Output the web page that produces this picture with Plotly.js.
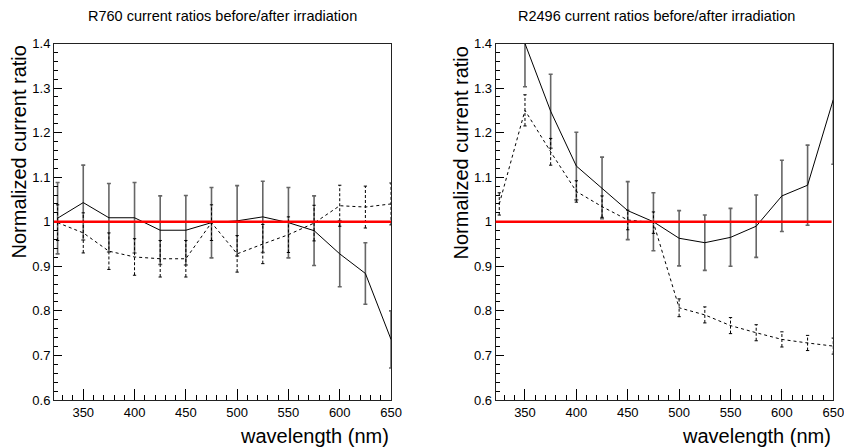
<!DOCTYPE html>
<html>
<head>
<meta charset="utf-8">
<script src="https://cdn.plot.ly/plotly-3.0.1.min.js"></script>
<style>html,body{margin:0;padding:0;background:#fff;}#chart{width:844px;height:448px;}</style>
</head>
<body>
<div id="chart"></div>
<script>
// ---- data ----
const wavelength = [325, 350, 375, 400, 425, 450, 475, 500, 525, 550, 575, 600, 625, 650];

const r760Solid      = [1.008, 1.043, 1.009, 1.009, 0.981, 0.981, 0.998, 1.002, 1.011, 0.998, 0.980, 0.928, 0.884, 0.736];
const r760SolidErr   = [0.080, 0.084, 0.077, 0.079, 0.077, 0.078, 0.079, 0.079, 0.080, 0.079, 0.078, 0.074, 0.069, 0.064];
const r760Dashed     = [0.998, 0.975, 0.934, 0.921, 0.917, 0.917, 0.998, 0.928, 0.950, 0.971, 0.997, 1.036, 1.033, 1.040];
const r760DashedErr  = [0.040, 0.045, 0.041, 0.041, 0.041, 0.041, 0.040, 0.041, 0.044, 0.040, 0.040, 0.046, 0.047, 0.047];

const r2496Solid     = [null, 1.400, 1.248, 1.125, 1.076, 1.025, 1.000, 0.963, 0.953, 0.965, 0.990, 1.058, 1.082, 1.274];
const r2496SolidErr  = [null, 0.097, 0.083, 0.076, 0.069, 0.065, 0.065, 0.062, 0.062, 0.065, 0.070, 0.080, 0.090, 0.145];
const r2496Dashed    = [1.040, 1.250, 1.157, 1.068, 1.034, 1.004, 0.998, 0.807, 0.791, 0.767, 0.751, 0.736, 0.728, 0.721];
const r2496DashedErr = [0.025, 0.035, 0.030, 0.024, 0.024, 0.022, 0.024, 0.020, 0.018, 0.018, 0.018, 0.017, 0.017, 0.018];

const xTickVals = [350, 400, 450, 500, 550, 600, 650];
const yTickVals = [0.6, 0.7, 0.8, 0.9, 1.0, 1.1, 1.2, 1.3, 1.4];
const yTickText = ['0.6', '0.7', '0.8', '0.9', '1', '1.1', '1.2', '1.3', '1.4'];
const referenceRatio = 1;

const titles = ['R760 current ratios before/after irradiation', 'R2496 current ratios before/after irradiation'];
const xTitle = 'wavelength (nm)';
const yTitle = 'Normalized current ratio';

// ---- helpers ----
const FONT = 'Liberation Sans, Arial, Helvetica, sans-serif';

function solidTraces(xa, ya, vals, errs) {
  return [{
    type: 'scatter', mode: 'lines', x: wavelength, y: vals, xaxis: xa, yaxis: ya,
    line: {color: '#000', width: 1}, connectgaps: false, hoverinfo: 'skip',
    error_y: {type: 'data', array: errs, visible: true, color: '#666', thickness: 1.6, width: 2}
  }];
}

function dashedTraces(xa, ya, vals, errs) {
  const sx = [], sy = [], cx = [], cy = [];
  const capHalf = 1.6;
  wavelength.forEach((w, i) => {
    const v = vals[i], e = errs[i];
    if (v == null) return;
    sx.push(w, w, null); sy.push(v - e, v + e, null);
    cx.push(w - capHalf, w + capHalf, null); cy.push(v - e, v - e, null);
    cx.push(w - capHalf, w + capHalf, null); cy.push(v + e, v + e, null);
  });
  return [
    {type: 'scatter', mode: 'lines', x: wavelength, y: vals, xaxis: xa, yaxis: ya,
     line: {color: '#000', width: 1, dash: '3px,3px'}, hoverinfo: 'skip'},
    {type: 'scatter', mode: 'lines', x: sx, y: sy, xaxis: xa, yaxis: ya,
     line: {color: '#000', width: 1, dash: '3px,2px'}, hoverinfo: 'skip'},
    {type: 'scatter', mode: 'lines', x: cx, y: cy, xaxis: xa, yaxis: ya,
     line: {color: '#000', width: 1}, hoverinfo: 'skip'}
  ];
}

const data = [].concat(
  solidTraces('x', 'y', r760Solid, r760SolidErr),
  dashedTraces('x', 'y', r760Dashed, r760DashedErr),
  solidTraces('x2', 'y2', r2496Solid, r2496SolidErr),
  dashedTraces('x2', 'y2', r2496Dashed, r2496DashedErr)
);

function xAxis(domain, anchor) {
  return {
    domain: domain, anchor: anchor, range: [321.5, 650],
    tickvals: xTickVals, ticks: 'inside', ticklen: 11, tickcolor: '#000', tickwidth: 1,
    minor: {dtick: 10, ticks: 'inside', ticklen: 5, tickcolor: '#000', tickwidth: 1, showgrid: false},
    showline: true, mirror: true, linecolor: '#222', linewidth: 1,
    showgrid: false, zeroline: false, tickfont: {family: FONT, size: 13, color: '#000'},
    ticklabeloverflow: 'allow', fixedrange: true
  };
}
function yAxis(domain, anchor) {
  return {
    domain: domain, anchor: anchor, range: [0.6, 1.4],
    tickvals: yTickVals, ticktext: yTickText, ticks: 'inside', ticklen: 8, tickcolor: '#000', tickwidth: 1,
    minor: {dtick: 0.02, ticks: 'inside', ticklen: 4, tickcolor: '#000', tickwidth: 1, showgrid: false},
    showline: true, mirror: true, linecolor: '#222', linewidth: 1,
    showgrid: false, zeroline: false, tickfont: {family: FONT, size: 13, color: '#000'},
    ticklabeloverflow: 'allow', fixedrange: true
  };
}

const yDom = [0.1071, 0.9029];
const layout = {
  width: 844, height: 448,
  margin: {l: 0, r: 0, t: 0, b: 0},
  paper_bgcolor: '#fff', plot_bgcolor: '#fff',
  showlegend: false,
  xaxis: xAxis([0.0640, 0.4633], 'y'),
  yaxis: yAxis(yDom, 'x'),
  xaxis2: xAxis([0.5873, 0.9873], 'y2'),
  yaxis2: yAxis(yDom, 'x2'),
  shapes: [
    {type: 'line', xref: 'x domain', yref: 'y', x0: 0, x1: 1, y0: referenceRatio, y1: referenceRatio,
     line: {color: '#ff0000', width: 2.5}, layer: 'above'},
    {type: 'line', xref: 'x2 domain', yref: 'y2', x0: 0, x1: 0.995, y0: referenceRatio, y1: referenceRatio,
     line: {color: '#ff0000', width: 2.5}, layer: 'above'}
  ],
  annotations: [
    {text: titles[0], xref: 'paper', yref: 'paper', x: 222 / 844, y: 1 - 15.5 / 448,
     xanchor: 'center', yanchor: 'middle', showarrow: false, font: {family: FONT, size: 14.5, color: '#000'}},
    {text: titles[1], xref: 'paper', yref: 'paper', x: 656 / 844, y: 1 - 15.5 / 448,
     xanchor: 'center', yanchor: 'middle', showarrow: false, font: {family: FONT, size: 14.5, color: '#000'}},
    {text: xTitle, xref: 'paper', yref: 'paper', x: 391 / 844, y: 1 - 436 / 448,
     xanchor: 'right', yanchor: 'middle', showarrow: false, font: {family: FONT, size: 20, color: '#000'}},
    {text: xTitle, xref: 'paper', yref: 'paper', x: 833 / 844, y: 1 - 436 / 448,
     xanchor: 'right', yanchor: 'middle', showarrow: false, font: {family: FONT, size: 20, color: '#000'}},
    {text: yTitle, xref: 'paper', yref: 'paper', x: 18 / 844, y: 1 - 44 / 448, textangle: -90,
     xanchor: 'center', yanchor: 'top', showarrow: false, font: {family: FONT, size: 20, color: '#000'}},
    {text: yTitle, xref: 'paper', yref: 'paper', x: 460 / 844, y: 1 - 44 / 448, textangle: -90,
     xanchor: 'center', yanchor: 'top', showarrow: false, font: {family: FONT, size: 20, color: '#000'}}
  ]
};

Plotly.newPlot('chart', data, layout, {staticPlot: true, displayModeBar: false});
</script>
</body>
</html>
